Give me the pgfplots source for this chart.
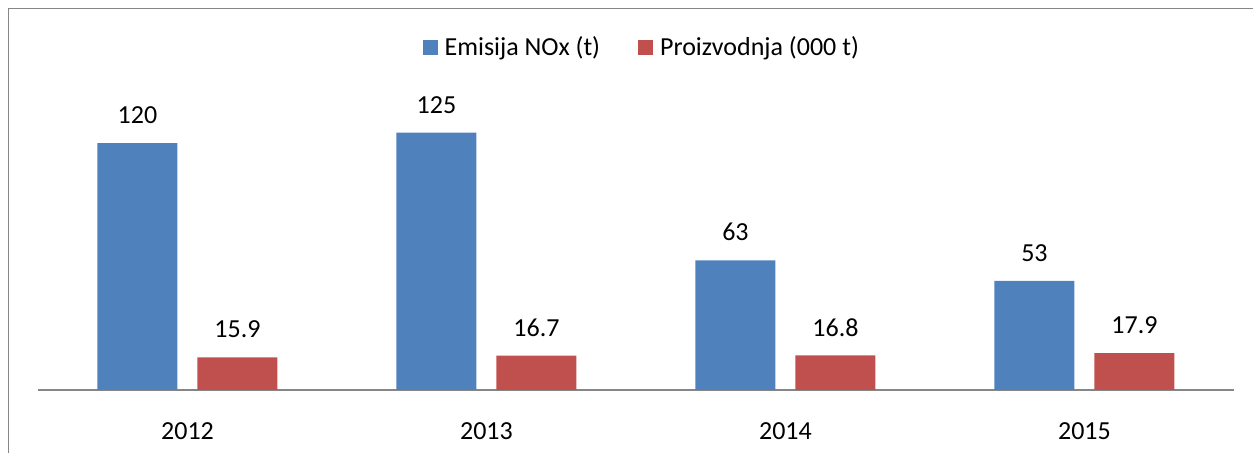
\documentclass[border=0pt]{standalone}
\usepackage{fontspec}
\setmainfont{Carlito}
\usepackage{pgfplots}
\pgfplotsset{compat=1.18}
\definecolor{barblue}{HTML}{4F81BD}
\definecolor{barred}{HTML}{C0504D}
\definecolor{framegray}{HTML}{868686}
\begin{document}
\fontsize{26bp}{31bp}\selectfont
\begin{tikzpicture}
\begin{axis}[
  at={(38bp,63bp)}, anchor=south west,
  scale only axis, width=1196bp, height=308.7bp,
  xmin=-0.5, xmax=3.5, ymin=0, ymax=150,
  axis y line=none,
  axis x line=bottom,
  x axis line style={-, draw=framegray, line width=1.3bp},
  xtick={0,1,2,3},
  xticklabels={2012,2013,2014,2015},
  xtick style={draw=none},
  xticklabel style={inner sep=0pt, anchor=north, yshift=-28bp},
  ybar=20bp, bar width=80bp,
  /pgf/number format/assume math mode=true,
  nodes near coords,
  nodes near coords style={inner sep=0pt, anchor=south, yshift=19bp, text=black},
  legend columns=2,
  legend style={at={(0.504,1.108)}, anchor=center, draw=none, fill=none,
    inner sep=0pt, nodes={inner sep=0pt},
    /tikz/every odd column/.append style={column sep=7bp},
    /tikz/every even column/.append style={column sep=38bp}},
  legend image code/.code={\fill[#1] (0bp,-7.5bp) rectangle (15bp,7.5bp);},
  clip=false,
]
\addplot[fill=barblue, draw=none] coordinates {(0,120) (1,125) (2,63) (3,53)};
\addplot[fill=barred, draw=none] coordinates {(0,15.9) (1,16.7) (2,16.8) (3,17.9)};
\legend{Emisija NOx (t), Proizvodnja (000 t)}
\end{axis}
\draw[framegray, line width=1.5bp] (8.5bp,-20bp) -- (8.5bp,444.5bp) -- (1280bp,444.5bp);
\pgfresetboundingbox
\path (0,0) rectangle (1253bp,453bp);
\end{tikzpicture}
\end{document}
